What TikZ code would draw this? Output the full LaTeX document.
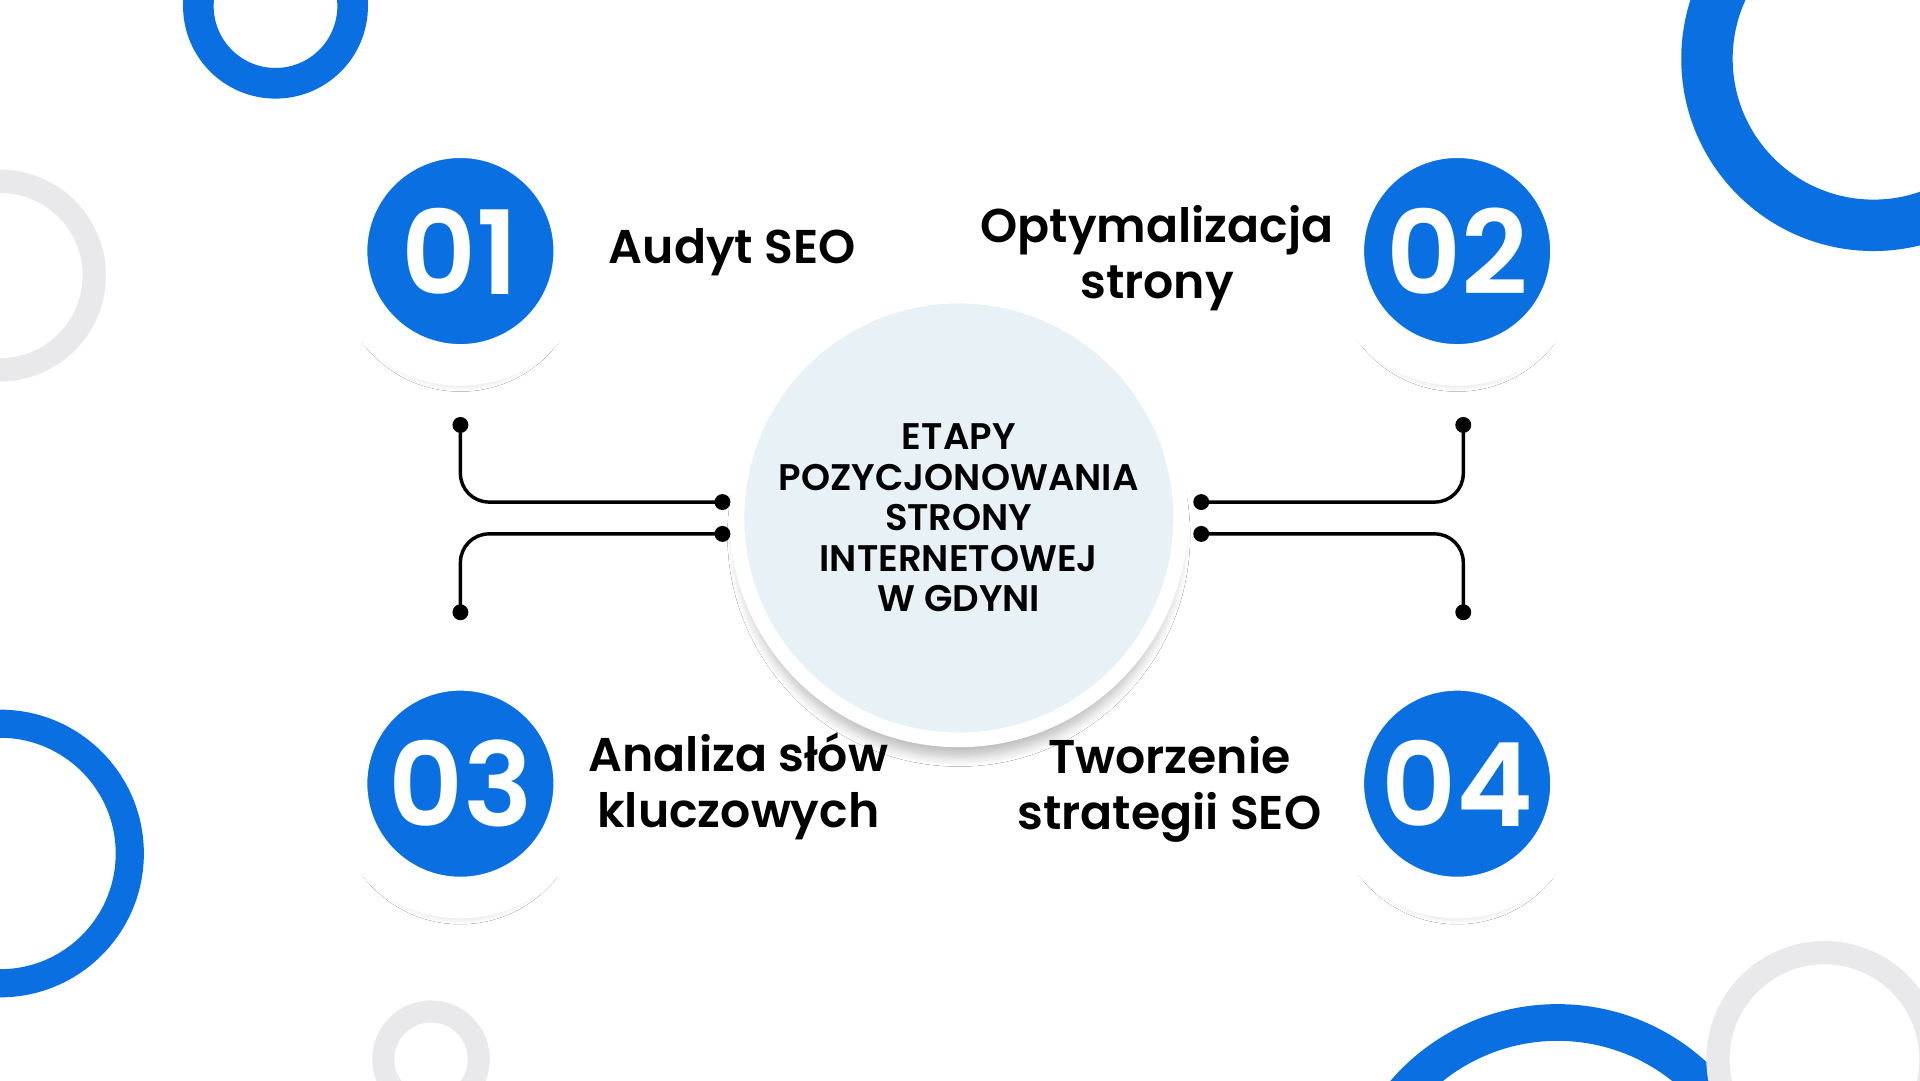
\documentclass[tikz,border=0pt]{standalone}
\usepackage{fontspec}
\setmainfont{Poppins}[BoldFont={Poppins SemiBold}]
\usetikzlibrary{positioning,shadows.blur}
\definecolor{seoblue}{HTML}{0A6FE0}
\definecolor{ringgray}{HTML}{E9E8EB}
\definecolor{centerfill}{HTML}{E8F1F5}
\tikzset{
  numcircle/.style={circle,fill=seoblue,draw=white,line width=3.4mm,minimum size=18.6cm/10,
    text=white,font=\fontsize{27}{27}\selectfont\bfseries,blur shadow={shadow blur steps=8,shadow xshift=0pt,shadow yshift=-4pt,shadow opacity=25}},
  steplabel/.style={font=\fontsize{11}{13}\selectfont\bfseries,align=center,text=black},
  dot/.style={circle,fill=black,inner sep=0pt,minimum size=1.3mm},
  link/.style={line width=0.8pt,rounded corners=7mm/3},
  ring/.style={draw=#1,fill=none}
}
\begin{document}
\begin{tikzpicture}[x=1cm,y=-1cm]
        \useasboundingbox[fill=white] (0,0) rectangle (15.68,8.82);
        % decorative rings
        \begin{scope}
        \clip (0,0) rectangle (15.68,8.82);
        \draw[ring=seoblue,line width=0.25cm] (2.25,0.05) circle (0.63);
        \draw[ring=seoblue,line width=0.42cm] (15.30,0.48) circle (1.36);
        \draw[ring=ringgray,line width=0.19cm] (0,2.25) circle (0.77);
        \draw[ring=seoblue,line width=0.23cm] (0,6.97) circle (1.06);
        \draw[ring=ringgray,line width=0.18cm] (3.52,8.65) circle (0.39);
        \draw[ring=seoblue,line width=0.30cm] (12.72,10.0) circle (1.65);
        \draw[ring=ringgray,line width=0.19cm] (14.90,8.65) circle (0.87);
        \end{scope}
        % centre
        \node[circle,fill=centerfill,draw=white,line width=1.2mm,minimum size=3.2cm,
          blur shadow={shadow blur steps=8,shadow xshift=0pt,shadow yshift=-4pt,shadow opacity=25},
          font=\fontsize{8.6}{9.4}\selectfont\bfseries,align=center] (centre) at (7.83,4.23)
          {ETAPY\\POZYCJONOWANIA\\STRONY\\INTERNETOWEJ\\W GDYNI};
        % numbered steps
        \node[numcircle] (s1) at (3.76,2.05) {01};
        \node[numcircle] (s2) at (11.90,2.05) {02};
        \node[numcircle] (s3) at (3.76,6.40) {03};
        \node[numcircle] (s4) at (11.90,6.40) {04};
        \node[steplabel] (t1) at (5.98,2.06) {Audyt SEO};
        \node[steplabel] (t2) at (9.45,2.11) {Optymalizacja\\strony};
        \node[steplabel] (t3) at (6.03,6.42) {Analiza słów\\kluczowych};
        \node[steplabel] (t4) at (9.55,6.45) {Tworzenie\\strategii SEO};
        % connectors
        \node[dot] (a1) at (3.76,3.47) {};
        \node[dot] (a2) at (5.90,4.10) {};
        \node[dot] (b1) at (5.90,4.36) {};
        \node[dot] (b2) at (3.76,5.00) {};
        \node[dot] (c1) at (9.81,4.10) {};
        \node[dot] (c2) at (11.95,3.47) {};
        \node[dot] (d1) at (9.81,4.36) {};
        \node[dot] (d2) at (11.95,5.00) {};
        \draw[link] (a1.center) |- (a2.center);
        \draw[link] (b1.center) -| (b2.center);
        \draw[link] (c1.center) -| (c2.center);
        \draw[link] (d1.center) -| (d2.center);
    \end{tikzpicture}
\end{document}
